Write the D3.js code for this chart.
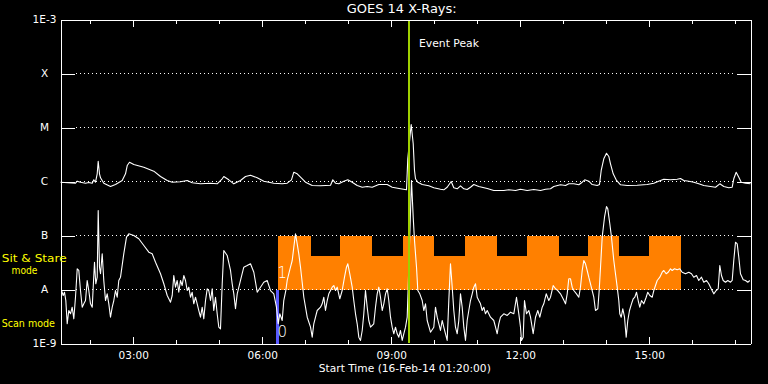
<!DOCTYPE html>
<html><head><meta charset="utf-8">
<script src="https://cdn.jsdelivr.net/npm/d3@7"></script>
<style>
html,body{margin:0;padding:0;background:#000;}
svg{display:block;}
text{font-family:"DejaVu Sans",sans-serif;}
</style></head>
<body>
<svg id="chart" width="768" height="384"></svg>
<script>
// ---------- data (hours of 16-Feb-2014, log10 flux W/m^2) ----------
const startHour = 1.3093, endHour = 17.356;
const levelValues = [-9, -8, -7, -6, -5, -4, -3];
const levelLabels = ["1E-9", "A", "B", "C", "M", "X", "1E-3"];
const gridLevels = [-8, -7, -6, -5, -4];
const hourTicks = [2,3,4,5,6,7,8,9,10,11,12,13,14,15,16,17];
const majorHourTicks = [3,6,9,12,15];

const longTimes = [1.309,1.658,1.698,1.774,1.891,1.967,2.047,2.084,2.123,2.163,
2.186,2.216,2.240,2.316,2.472,2.588,2.744,2.821,2.861,2.914,
3.014,3.247,3.479,3.635,3.791,3.907,4.100,4.256,4.372,4.565,
4.798,4.953,5.070,5.107,5.223,5.340,5.495,5.612,5.728,5.884,
6.037,6.270,6.465,6.582,6.681,6.735,6.814,6.891,7.007,7.163,
7.356,7.589,7.642,7.705,7.781,7.898,7.991,8.093,8.209,8.326,
8.442,8.558,8.712,8.907,9.023,9.216,9.356,9.386,9.465,9.512,
9.542,9.565,9.619,9.721,9.874,9.991,10.146,10.223,10.302,10.395,
10.456,10.535,10.612,10.689,10.767,10.844,10.921,11.037,11.233,11.386,
11.619,11.735,11.891,12.007,12.163,12.316,12.472,12.588,12.705,12.781,
12.937,13.054,13.130,13.247,13.363,13.442,13.502,13.595,13.674,13.791,
13.844,13.884,13.944,14.007,14.061,14.100,14.163,14.240,14.333,14.488,
14.721,14.953,15.107,15.263,15.340,15.495,15.651,15.728,15.805,15.921,
16.037,16.153,16.270,16.426,16.542,16.642,16.735,16.851,16.930,16.967,
17.023,17.084,17.140,17.240,17.356];
const longLogFlux = [-6.013,-6.031,-5.994,-6.013,-6.031,-6.019,-6.031,-5.969,-6.013,-5.857,
-5.624,-5.857,-5.931,-6.031,-6.093,-6.056,-5.981,-5.857,-5.704,-5.643,
-5.685,-5.735,-5.809,-5.907,-5.981,-6.013,-6.006,-5.981,-6.024,-6.043,
-6.031,-6.043,-5.950,-5.907,-5.969,-6.043,-5.981,-5.907,-5.883,-5.931,
-5.994,-6.031,-6.043,-6.031,-5.969,-5.828,-5.857,-5.920,-6.013,-6.074,
-6.080,-6.069,-5.969,-6.031,-6.043,-5.994,-5.969,-6.013,-6.074,-6.106,
-6.093,-6.106,-6.056,-6.056,-6.106,-6.135,-6.154,-5.580,-4.944,-5.302,
-5.796,-5.950,-6.013,-6.056,-6.080,-6.117,-6.143,-6.154,-6.106,-6.000,
-6.117,-6.135,-6.080,-6.135,-6.148,-6.106,-6.056,-6.093,-6.130,-6.167,
-6.167,-6.154,-6.167,-6.143,-6.167,-6.148,-6.167,-6.143,-6.135,-6.093,
-6.061,-6.074,-6.043,-6.043,-6.061,-6.013,-5.969,-5.994,-6.056,-6.074,
-6.056,-5.796,-5.580,-5.476,-5.537,-5.672,-5.857,-5.981,-6.061,-6.074,
-6.069,-6.056,-6.031,-5.981,-5.957,-5.969,-5.957,-5.944,-5.981,-5.994,
-6.013,-6.043,-6.074,-6.093,-6.106,-6.043,-6.093,-6.117,-6.106,-5.950,
-5.828,-5.920,-6.013,-6.031,-6.043];

const shortTimes = [1.333,1.372,1.402,1.433,1.465,1.502,1.542,1.581,1.619,1.658,
1.698,1.735,1.774,1.814,1.851,1.891,1.930,1.967,2.007,2.047,
2.070,2.100,2.130,2.163,2.186,2.216,2.240,2.279,2.316,2.356,
2.395,2.433,2.472,2.512,2.549,2.588,2.628,2.665,2.705,2.781,
2.844,2.898,3.014,3.130,3.247,3.363,3.442,3.519,3.635,3.712,
3.791,3.868,3.907,3.944,3.984,4.023,4.060,4.100,4.139,4.177,
4.216,4.256,4.293,4.333,4.372,4.409,4.449,4.488,4.526,4.565,
4.605,4.642,4.682,4.721,4.758,4.798,4.837,4.874,4.914,4.953,
4.991,5.030,5.070,5.107,5.186,5.263,5.302,5.340,5.379,5.419,
5.495,5.572,5.651,5.728,5.805,5.884,5.961,6.037,6.116,6.193,
6.270,6.332,6.372,6.409,6.465,6.502,6.549,6.581,6.618,6.658,
6.698,6.735,6.774,6.814,6.851,6.891,6.930,6.968,7.047,7.124,
7.163,7.200,7.279,7.356,7.395,7.433,7.472,7.512,7.549,7.589,
7.628,7.665,7.705,7.744,7.805,7.860,7.914,7.960,7.991,8.037,
8.093,8.130,8.170,8.209,8.247,8.286,8.326,8.363,8.402,8.442,
8.479,8.519,8.595,8.635,8.674,8.712,8.751,8.791,8.828,8.868,
8.907,8.944,8.984,9.023,9.061,9.100,9.140,9.177,9.216,9.256,
9.293,9.333,9.372,9.395,9.472,9.512,9.542,9.589,9.619,9.665,
9.721,9.758,9.798,9.837,9.914,9.991,10.030,10.070,10.146,10.186,
10.223,10.263,10.302,10.340,10.379,10.419,10.456,10.495,10.535,10.572,
10.612,10.651,10.689,10.728,10.767,10.805,10.844,10.884,10.921,10.961,
11.000,11.037,11.077,11.116,11.153,11.193,11.233,11.309,11.386,11.426,
11.465,11.502,11.542,11.619,11.698,11.775,11.851,11.914,11.968,12.007,
12.030,12.070,12.100,12.147,12.200,12.240,12.302,12.356,12.409,12.456,
12.512,12.549,12.605,12.665,12.705,12.767,12.821,12.874,12.937,12.998,
13.054,13.093,13.130,13.170,13.209,13.247,13.309,13.363,13.402,13.442,
13.479,13.519,13.558,13.595,13.635,13.674,13.712,13.751,13.805,13.837,
13.868,13.907,13.961,14.007,14.037,14.084,14.123,14.177,14.216,14.256,
14.293,14.316,14.349,14.386,14.426,14.465,14.502,14.542,14.588,14.628,
14.665,14.705,14.744,14.781,14.821,14.874,14.930,14.967,15.014,15.070,
15.107,15.147,15.186,15.247,15.302,15.340,15.395,15.442,15.495,15.535,
15.588,15.651,15.712,15.767,15.844,15.921,15.984,16.037,16.100,16.153,
16.216,16.270,16.333,16.386,16.442,16.502,16.558,16.605,16.642,16.681,
16.721,16.774,16.828,16.891,16.930,16.967,17.007,17.047,17.084,17.123,
17.186,17.240,17.293,17.340];
const shortLogFlux = [-8.019,-8.111,-8.050,-8.204,-8.635,-8.389,-8.450,-8.328,-8.543,-8.143,
-7.617,-7.648,-8.019,-8.328,-8.265,-8.204,-7.833,-8.019,-8.265,-8.328,
-7.957,-7.494,-7.894,-7.772,-6.537,-7.587,-7.709,-7.339,-7.833,-8.204,
-8.080,-8.265,-8.513,-8.328,-8.204,-8.019,-8.143,-7.833,-7.772,-7.339,
-7.030,-6.969,-7.000,-7.061,-7.185,-7.309,-7.339,-7.494,-7.709,-7.894,
-8.111,-8.235,-8.111,-7.741,-7.957,-7.833,-8.050,-7.833,-7.926,-7.741,
-7.833,-8.019,-7.957,-8.143,-8.050,-8.265,-8.143,-8.265,-8.389,-8.513,
-8.328,-8.543,-8.204,-7.987,-8.019,-8.204,-7.987,-8.389,-8.143,-8.450,
-8.698,-8.728,-7.894,-7.278,-7.370,-7.648,-7.894,-8.080,-8.357,-8.080,
-7.833,-7.587,-7.556,-7.524,-7.680,-8.050,-7.957,-7.865,-7.833,-8.019,
-8.080,-8.328,-8.635,-8.450,-8.574,-8.204,-8.019,-7.833,-7.709,-7.587,
-7.463,-7.217,-6.969,-7.154,-7.339,-7.587,-7.865,-8.143,-8.513,-8.698,
-8.883,-8.635,-8.389,-8.328,-8.265,-8.143,-8.389,-8.204,-8.080,-8.019,
-7.957,-7.926,-8.019,-7.957,-8.172,-8.019,-7.772,-7.587,-7.524,-7.709,
-7.957,-8.204,-8.450,-8.635,-8.883,-8.944,-8.759,-8.450,-8.019,-8.328,
-8.574,-8.698,-8.635,-8.328,-8.080,-7.957,-8.143,-8.389,-8.265,-8.080,
-7.987,-8.204,-8.513,-8.698,-8.820,-8.698,-8.820,-8.883,-8.759,-8.944,
-8.820,-8.698,-8.513,-7.957,-5.981,-6.661,-7.093,-7.587,-8.019,-8.080,
-8.204,-8.389,-8.265,-8.574,-8.791,-8.698,-8.328,-8.513,-8.759,-8.574,
-8.698,-8.820,-8.944,-8.204,-7.524,-7.957,-8.389,-8.698,-8.820,-8.574,
-8.080,-8.328,-8.698,-8.944,-8.574,-8.389,-8.204,-8.080,-7.957,-7.894,
-8.143,-8.204,-8.265,-8.389,-8.328,-8.450,-8.389,-8.513,-8.574,-8.698,
-8.820,-8.635,-8.513,-8.450,-8.481,-8.420,-8.450,-8.143,-8.450,-8.698,
-8.944,-8.883,-8.204,-8.450,-8.389,-8.513,-8.820,-8.513,-8.389,-8.513,
-8.328,-8.265,-8.080,-8.204,-8.143,-7.926,-7.987,-8.019,-8.080,-8.172,
-8.265,-8.080,-7.802,-7.802,-7.957,-8.019,-8.080,-8.143,-7.957,-7.648,
-7.463,-7.524,-7.648,-7.772,-7.894,-8.019,-8.143,-8.389,-8.357,-8.019,
-7.587,-7.031,-6.661,-6.463,-6.506,-6.783,-7.031,-7.463,-7.709,-7.957,
-8.204,-8.450,-8.513,-8.357,-8.513,-8.883,-8.574,-8.389,-8.265,-8.172,
-8.143,-8.050,-8.204,-8.328,-8.204,-8.265,-8.143,-8.050,-8.111,-8.143,
-8.019,-7.926,-7.833,-7.772,-7.680,-7.648,-7.709,-7.680,-7.617,-7.648,
-7.617,-7.635,-7.617,-7.680,-7.709,-7.680,-7.709,-7.772,-7.741,-7.833,
-7.772,-7.865,-7.833,-7.894,-7.987,-8.080,-8.019,-7.987,-7.556,-7.741,
-7.833,-7.865,-7.833,-7.865,-7.833,-7.463,-7.124,-7.154,-7.402,-7.709,
-7.820,-7.833,-7.865,-7.833];

// Sit & Stare mode blocks: edges (hours) and block top level (log10 flux)
const stareEdges = [6.372,7.124,7.821,8.565,9.270,10.007,10.705,11.449,12.147,12.891,13.588,14.302,15.007,15.744];
const stareTops  = [-7.0,-7.38,-7.0,-7.38,-7.0,-7.38,-7.0,-7.38,-7.0,-7.38,-7.0,-7.38,-7.0];
const stareBase = -8;
// Scan mode
const scanStart = 6.326, scanEnd = 6.396, scanTop = -8, scanBase = -9;
const eventPeakHour = 9.418;

// ---------- drawing ----------
const W = 768, H = 384;
const svg = d3.select("#chart");
svg.append("rect").attr("width", W).attr("height", H).attr("fill", "#000");

const x = d3.scaleLinear().domain([startHour, endHour]).range([60.5, 750.5]);
const y = d3.scaleLinear().domain([-9, -3]).range([343.5, 19.5]);
const fmtHour = h => String(h).padStart(2, "0") + ":00";

// orange stare blocks
const blocks = stareTops.map((t, i) => ({x0: stareEdges[i], x1: stareEdges[i + 1], top: t}));
svg.append("g").selectAll("rect").data(blocks).join("rect")
  .attr("x", d => x(d.x0)).attr("width", d => x(d.x1) - x(d.x0))
  .attr("y", d => y(d.top)).attr("height", d => y(stareBase) - y(d.top))
  .attr("fill", "#ff8000").attr("shape-rendering", "crispEdges");

// blue scan bar
svg.append("rect")
  .attr("x", Math.round(x(scanStart))).attr("width", Math.round(x(scanEnd) - x(scanStart)))
  .attr("y", y(scanTop)).attr("height", y(scanBase) - y(scanTop))
  .attr("fill", "#5a5aff").attr("shape-rendering", "crispEdges");

// dotted grid
svg.append("g").selectAll("line").data(gridLevels).join("line")
  .attr("x1", 76).attr("x2", 736).attr("y1", d => y(d)).attr("y2", d => y(d))
  .attr("stroke", "#fff").attr("stroke-width", 1).attr("stroke-dasharray", "1,3")
  .attr("shape-rendering", "crispEdges");

// curves
const line = d3.line().x(d => x(d[0])).y(d => y(d[1]));
const longData = longTimes.map((t, i) => [t, longLogFlux[i]]);
const shortData = shortTimes.map((t, i) => [t, shortLogFlux[i]]);
[longData, shortData].forEach(dat => {
  svg.append("path").datum(dat).attr("d", line)
    .attr("fill", "none").attr("stroke", "#fff").attr("stroke-width", 1.1)
    .attr("stroke-linejoin", "round");
});

// event peak line
const xp = Math.round(x(eventPeakHour));
svg.append("line").attr("x1", xp).attr("x2", xp).attr("y1", y(-3) + 0.5).attr("y2", y(-9) - 0.5)
  .attr("stroke", "#9fd000").attr("stroke-width", 2).attr("shape-rendering", "crispEdges");
svg.append("text").attr("x", xp + 10).attr("y", 46.7).attr("fill", "#fff")
  .attr("font-size", 11).attr("textLength", 60).attr("lengthAdjust", "spacingAndGlyphs")
  .text("Event Peak");

// axes
function styleAxis(g) {
  g.attr("color", "#fff").attr("shape-rendering", "crispEdges")
   .selectAll("text").attr("font-family", "DejaVu Sans").attr("font-size", 10.5).attr("fill", "#fff");
}
svg.append("g").attr("transform", `translate(0,${y(-9)})`)
  .call(d3.axisBottom(x).tickValues(hourTicks).tickSize(-4).tickSizeOuter(0).tickFormat(""))
  .call(styleAxis);
svg.append("g").attr("transform", `translate(0,${y(-9)})`)
  .call(d3.axisBottom(x).tickValues(majorHourTicks).tickSize(-7).tickSizeOuter(0).tickPadding(8).tickFormat(fmtHour))
  .call(styleAxis);
svg.append("g").attr("transform", `translate(0,${y(-3)})`)
  .call(d3.axisTop(x).tickValues(hourTicks).tickSize(-4).tickSizeOuter(0).tickFormat(""))
  .call(styleAxis);
svg.append("g").attr("transform", `translate(0,${y(-3)})`)
  .call(d3.axisTop(x).tickValues(majorHourTicks).tickSize(-7).tickSizeOuter(0).tickFormat(""))
  .call(styleAxis);
const yl = svg.append("g").attr("transform", `translate(${x.range()[0]},0)`)
  .call(d3.axisLeft(y).tickValues(levelValues).tickSize(-14).tickSizeOuter(0)
    .tickFormat((d, i) => levelLabels[i]))
  .call(styleAxis);
yl.selectAll("text").attr("x", -16).attr("text-anchor", "middle");
svg.append("g").attr("transform", `translate(${x.range()[1]},0)`)
  .call(d3.axisRight(y).tickValues(levelValues).tickSize(-14).tickSizeOuter(0).tickFormat(""))
  .call(styleAxis);

// mode labels in the plot
svg.append("text").attr("x", x(stareEdges[0]) + 4).attr("y", 278.3)
  .attr("fill", "#fff").attr("font-size", 15).attr("font-weight", 200)
  .attr("text-anchor", "middle").text("1");
svg.append("text").attr("x", x(stareEdges[0]) + 4).attr("y", 336.7)
  .attr("fill", "#fff").attr("font-size", 15).attr("font-weight", 200)
  .attr("text-anchor", "middle").text("0");

// title & axis title
svg.append("text").attr("x", 401.7).attr("y", 13.3).attr("fill", "#fff")
  .attr("font-size", 12).attr("text-anchor", "middle")
  .attr("textLength", 110).attr("lengthAdjust", "spacingAndGlyphs").text("GOES 14 X-Rays:");
svg.append("text").attr("x", 404.8).attr("y", 371.7).attr("fill", "#fff")
  .attr("font-size", 11).attr("text-anchor", "middle")
  .attr("textLength", 172).attr("lengthAdjust", "spacingAndGlyphs").text("Start Time (16-Feb-14 01:20:00)");

// yellow mode legend
const yellow = "#ffff00";
svg.append("text").attr("x", 1.7).attr("y", 262.3).attr("fill", yellow).attr("font-size", 10.5)
  .attr("textLength", 65).attr("lengthAdjust", "spacingAndGlyphs").text("Sit & Stare");
svg.append("text").attr("x", 11.5).attr("y", 274.3).attr("fill", yellow).attr("font-size", 10.5)
  .attr("textLength", 26).attr("lengthAdjust", "spacingAndGlyphs").text("mode");
svg.append("text").attr("x", 1.7).attr("y", 327.3).attr("fill", yellow).attr("font-size", 10.5)
  .attr("textLength", 53.3).attr("lengthAdjust", "spacingAndGlyphs").text("Scan mode");
</script>
</body></html>
